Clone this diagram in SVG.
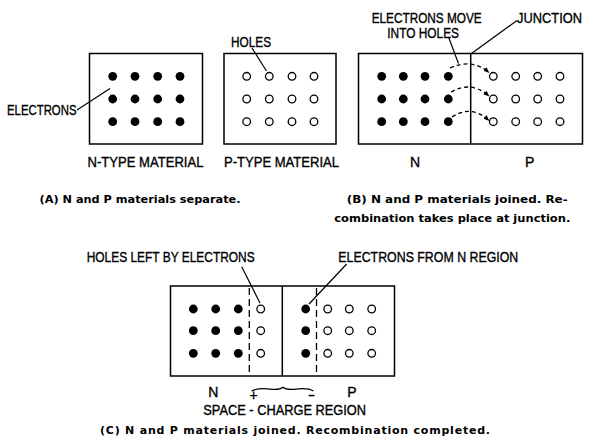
<svg xmlns="http://www.w3.org/2000/svg" width="609" height="448" viewBox="0 0 609 448">
<style>
.box{fill:none;stroke:#000;stroke-width:1.5}
.e{fill:#000}
.h{fill:#fff;stroke:#000;stroke-width:1.3}
.ln{fill:none;stroke:#000;stroke-width:1.2}
.dl{fill:none;stroke:#000;stroke-width:1.3;stroke-dasharray:7,4}
.da{fill:none;stroke:#000;stroke-width:1.3;stroke-dasharray:4,3}
.lb{font-family:"Liberation Sans",Arial,sans-serif;font-size:14px;fill:#000;stroke:#000;stroke-width:0.35}
.cp{font-family:"DejaVu Sans","Liberation Sans",sans-serif;font-size:11px;font-weight:bold;fill:#000}
</style>
<defs>
<marker id="ah" viewBox="0 0 10 10" refX="9" refY="5" markerWidth="6" markerHeight="6" markerUnits="userSpaceOnUse" orient="auto">
<path d="M0,1 L10,5 L0,9 Z" fill="#000"/>
</marker>
</defs>
<rect width="609" height="448" fill="#fff"/>

<g id="panelA-n">
<rect class="box" x="89.5" y="53.5" width="113" height="90.5"/>
<g>
<circle class="e" cx="112.7" cy="76.3" r="4.4"/><circle class="e" cx="135" cy="76.3" r="4.4"/><circle class="e" cx="157.7" cy="76.3" r="4.4"/><circle class="e" cx="180" cy="76.3" r="4.4"/>
<circle class="e" cx="112.7" cy="99" r="4.4"/><circle class="e" cx="135" cy="99" r="4.4"/><circle class="e" cx="157.7" cy="99" r="4.4"/><circle class="e" cx="180" cy="99" r="4.4"/>
<circle class="e" cx="112.7" cy="121.7" r="4.4"/><circle class="e" cx="135" cy="121.7" r="4.4"/><circle class="e" cx="157.7" cy="121.7" r="4.4"/><circle class="e" cx="180" cy="121.7" r="4.4"/>
</g>
<text class="lb" x="87.5" y="166.5" textLength="116" lengthAdjust="spacingAndGlyphs">N-TYPE MATERIAL</text>
</g>

<g id="panelA-p">
<rect class="box" x="224" y="53.5" width="112" height="90.5"/>
<g>
<circle class="h" cx="246.7" cy="76.3" r="3.8"/><circle class="h" cx="269.3" cy="76.3" r="3.8"/><circle class="h" cx="292" cy="76.3" r="3.8"/><circle class="h" cx="314" cy="76.3" r="3.8"/>
<circle class="h" cx="246.7" cy="99" r="3.8"/><circle class="h" cx="269.3" cy="99" r="3.8"/><circle class="h" cx="292" cy="99" r="3.8"/><circle class="h" cx="314" cy="99" r="3.8"/>
<circle class="h" cx="246.7" cy="121.7" r="3.8"/><circle class="h" cx="269.3" cy="121.7" r="3.8"/><circle class="h" cx="292" cy="121.7" r="3.8"/><circle class="h" cx="314" cy="121.7" r="3.8"/>
</g>
<text class="lb" x="224" y="166.5" textLength="115" lengthAdjust="spacingAndGlyphs">P-TYPE MATERIAL</text>
</g>

<g id="labelA-electrons">
<text class="lb" x="7" y="115" textLength="69.5" lengthAdjust="spacingAndGlyphs">ELECTRONS</text>
</g>
<g id="labelA-holes">
<text class="lb" x="231" y="46.5" textLength="40" lengthAdjust="spacingAndGlyphs">HOLES</text>
</g>
<g id="captionA">
<text class="cp" x="39.5" y="203" textLength="201" lengthAdjust="spacingAndGlyphs">(A) N and P materials separate.</text>
</g>

<g id="panelB">
<rect class="box" x="358.5" y="53.5" width="224" height="90.5"/>
<line class="box" x1="470.7" y1="53.5" x2="470.7" y2="144"/>
<g>
<circle class="e" cx="381.7" cy="76.3" r="4.4"/><circle class="e" cx="403.3" cy="76.3" r="4.4"/><circle class="e" cx="425" cy="76.3" r="4.4"/><circle class="e" cx="448.3" cy="76.3" r="4.4"/>
<circle class="e" cx="381.7" cy="99" r="4.4"/><circle class="e" cx="403.3" cy="99" r="4.4"/><circle class="e" cx="425" cy="99" r="4.4"/><circle class="e" cx="448.3" cy="99" r="4.4"/>
<circle class="e" cx="381.7" cy="121.7" r="4.4"/><circle class="e" cx="403.3" cy="121.7" r="4.4"/><circle class="e" cx="425" cy="121.7" r="4.4"/><circle class="e" cx="448.3" cy="121.7" r="4.4"/>
<circle class="h" cx="493.3" cy="76.3" r="3.8"/><circle class="h" cx="515.7" cy="76.3" r="3.8"/><circle class="h" cx="537.7" cy="76.3" r="3.8"/><circle class="h" cx="560" cy="76.3" r="3.8"/>
<circle class="h" cx="493.3" cy="99" r="3.8"/><circle class="h" cx="515.7" cy="99" r="3.8"/><circle class="h" cx="537.7" cy="99" r="3.8"/><circle class="h" cx="560" cy="99" r="3.8"/>
<circle class="h" cx="493.3" cy="121.7" r="3.8"/><circle class="h" cx="515.7" cy="121.7" r="3.8"/><circle class="h" cx="537.7" cy="121.7" r="3.8"/><circle class="h" cx="560" cy="121.7" r="3.8"/>
</g>
<text class="lb" x="410" y="166.5">N</text>
<text class="lb" x="525" y="166.5">P</text>
</g>
<g id="labelB-move">
<text class="lb" x="371.7" y="22.5" textLength="110" lengthAdjust="spacingAndGlyphs">ELECTRONS MOVE</text>
<text class="lb" x="387.3" y="38.3" textLength="71.7" lengthAdjust="spacingAndGlyphs">INTO HOLES</text>
</g>
<g id="labelB-junction">
<text class="lb" x="517" y="22.5" textLength="65" lengthAdjust="spacingAndGlyphs">JUNCTION</text>
</g>
<g id="captionB">
<text class="cp" x="346.7" y="203" textLength="221" lengthAdjust="spacingAndGlyphs">(B) N and P materials joined. Re-</text>
<text class="cp" x="334.3" y="222" textLength="236" lengthAdjust="spacingAndGlyphs">combination takes place at junction.</text>
</g>

<g id="panelC">
<rect class="box" x="170.5" y="286" width="224" height="90"/>
<line class="box" x1="282.3" y1="286" x2="282.3" y2="376"/>
<line class="dl" x1="249.3" y1="288" x2="249.3" y2="376"/>
<line class="dl" x1="316.5" y1="288" x2="316.5" y2="376"/>
<g>
<circle class="e" cx="193.3" cy="309" r="4.4"/><circle class="e" cx="215.7" cy="309" r="4.4"/><circle class="e" cx="238.3" cy="309" r="4.4"/><circle class="h" cx="260.7" cy="309" r="3.8"/>
<circle class="e" cx="193.3" cy="330.7" r="4.4"/><circle class="e" cx="215.7" cy="330.7" r="4.4"/><circle class="e" cx="238.3" cy="330.7" r="4.4"/><circle class="h" cx="260.7" cy="330.7" r="3.8"/>
<circle class="e" cx="193.3" cy="353.3" r="4.4"/><circle class="e" cx="215.7" cy="353.3" r="4.4"/><circle class="e" cx="238.3" cy="353.3" r="4.4"/><circle class="h" cx="260.7" cy="353.3" r="3.8"/>
<circle class="e" cx="305.7" cy="309" r="4.4"/><circle class="h" cx="327.7" cy="309" r="3.8"/><circle class="h" cx="349.3" cy="309" r="3.8"/><circle class="h" cx="371.7" cy="309" r="3.8"/>
<circle class="e" cx="305.7" cy="330.7" r="4.4"/><circle class="h" cx="327.7" cy="330.7" r="3.8"/><circle class="h" cx="349.3" cy="330.7" r="3.8"/><circle class="h" cx="371.7" cy="330.7" r="3.8"/>
<circle class="e" cx="305.7" cy="353.3" r="4.4"/><circle class="h" cx="327.7" cy="353.3" r="3.8"/><circle class="h" cx="349.3" cy="353.3" r="3.8"/><circle class="h" cx="371.7" cy="353.3" r="3.8"/>
</g>
<text class="lb" x="208.3" y="396.7">N</text>
<text class="lb" x="347.3" y="396.7">P</text>
</g>
<g id="labelC-holes">
<text class="lb" x="86.7" y="261.7" textLength="168" lengthAdjust="spacingAndGlyphs">HOLES LEFT BY ELECTRONS</text>
</g>
<g id="labelC-electrons">
<text class="lb" x="338.3" y="261.7" textLength="180" lengthAdjust="spacingAndGlyphs">ELECTRONS FROM N REGION</text>
</g>
<g id="labelC-space">
<path class="ln" d="M251.5,391 C257,388.3 265,388.3 272,389.3 C277,389.8 281,389 283,387.3 C285,389 289,389.8 294,389.3 C301,388.3 309,388.3 313.5,391"/>
<text class="lb" x="253.5" y="400" font-size="12" text-anchor="middle">+</text>
<text class="lb" x="311.5" y="399.5" font-size="12" text-anchor="middle" textLength="7" lengthAdjust="spacingAndGlyphs">-</text>
<text class="lb" x="203.3" y="415" textLength="162.7" lengthAdjust="spacingAndGlyphs">SPACE - CHARGE REGION</text>
</g>
<g id="captionC">
<text class="cp" x="100" y="434" textLength="390" lengthAdjust="spacing">(C) N and P materials joined. Recombination completed.</text>
</g>

<g id="connectors">
<line class="ln" x1="77" y1="110" x2="110" y2="88.5"/>
<line class="ln" x1="252" y1="48" x2="266.5" y2="71"/>
<line class="ln" x1="448.5" y1="37" x2="458.5" y2="63.5"/>
<line class="ln" x1="517" y1="20.5" x2="471.5" y2="53.5"/>
<path class="da" d="M450,68 Q472,58 489,72.5" marker-end="url(#ah)"/>
<path class="da" d="M451,92 Q471,80.3 489,96" marker-end="url(#ah)"/>
<path class="da" d="M452,117 Q471,104.4 489,120.5" marker-end="url(#ah)"/>
<line class="ln" x1="241.7" y1="266.7" x2="260" y2="303"/>
<line class="ln" x1="346.7" y1="264" x2="309" y2="304"/>
</g>
</svg>
